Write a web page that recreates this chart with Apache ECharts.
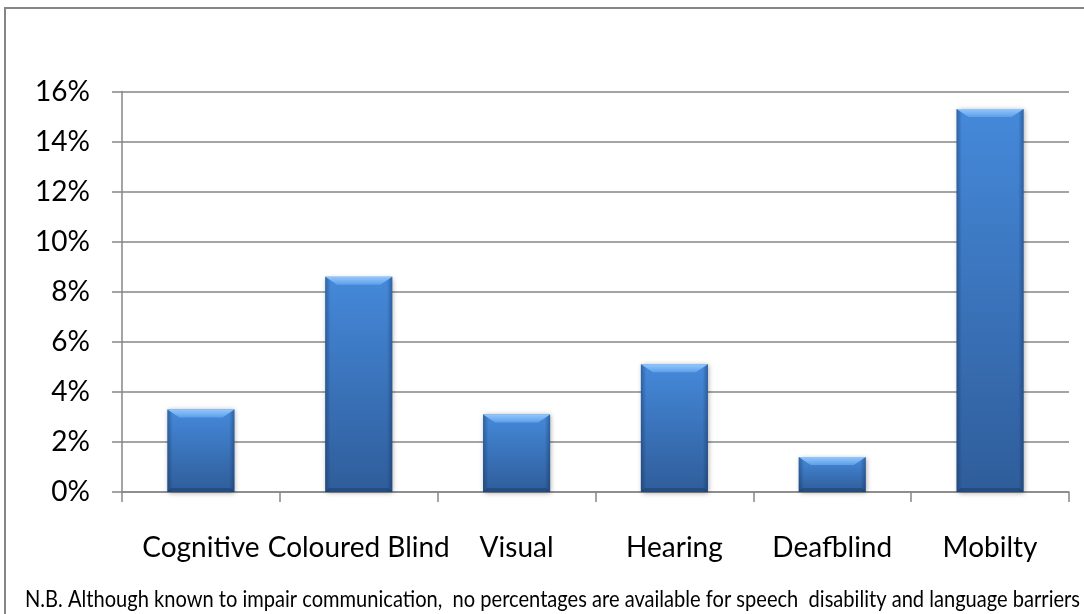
<!DOCTYPE html>
<html>
<head>
<meta charset="utf-8">
<script src="https://cdn.jsdelivr.net/npm/echarts@6/dist/echarts.min.js"></script>
<style>
  html, body { margin: 0; padding: 0; background: #ffffff; }
  #chart { width: 1084px; height: 614px; }
</style>
</head>
<body>
<div id="chart"></div>
<script>
// Share of people with each kind of disability (percent)
const categories = ['Cognitive', 'Coloured Blind', 'Visual', 'Hearing', 'Deafblind', 'Mobilty'];
const percentages = [3.3, 8.6, 3.1, 5.1, 1.4, 15.3];
const yTicks = { min: 0, max: 16, interval: 2 };
const footnote = 'N.B. Although known to impair communication,  no percentages are available for speech  disability and language barriers';

const FONT = 'Lato, "Open Sans", "DejaVu Sans", sans-serif';
const AXIS_GREY = '#868686';

// Squeeze the footnote horizontally so it spans the frame like a condensed face
const footFont = '23px ' + FONT;
const measureCtx = document.createElement('canvas').getContext('2d');
measureCtx.font = footFont;
const footScale = 1055 / measureCtx.measureText(footnote).width;

// Bevelled bar: vertical body gradient, darker side edges, light top bevel, soft shadow
function renderBar(params, api) {
  const idx = api.value(0);
  const val = api.value(1);
  const top = api.coord([idx, val]);
  const base = api.coord([idx, 0]);
  const band = api.size([1, 0])[0];
  const w = band * 0.425;
  const x0 = top[0] - w / 2;
  const x1 = top[0] + w / 2;
  const y0 = top[1];
  const y1 = base[1];
  const h = y1 - y0;
  const b = Math.min(8, h / 2);
  return {
    type: 'group',
    children: [
      {
        type: 'rect',
        shape: { x: x0, y: y0, width: w, height: h },
        style: {
          fill: new echarts.graphic.LinearGradient(0, 0, 0, 1, [
            { offset: 0, color: '#4589da' },
            { offset: 1, color: '#2f5d9a' }
          ]),
          shadowBlur: 5,
          shadowColor: 'rgba(0,0,0,0.35)',
          shadowOffsetX: 1,
          shadowOffsetY: 1
        }
      },
      {
        type: 'rect',
        shape: { x: x0, y: y0, width: w, height: h },
        style: {
          fill: new echarts.graphic.LinearGradient(0, 0, 1, 0, [
            { offset: 0, color: 'rgba(15,40,80,0.4)' },
            { offset: 0.08, color: 'rgba(15,40,80,0.0)' },
            { offset: 0.92, color: 'rgba(15,40,80,0.0)' },
            { offset: 1, color: 'rgba(15,40,80,0.4)' }
          ])
        }
      },
      {
        type: 'polygon',
        shape: { points: [[x0, y0], [x1, y0], [x1 - b * 1.5, y0 + b], [x0 + b * 1.5, y0 + b]] },
        style: {
          fill: new echarts.graphic.LinearGradient(0, 0, 0, 1, [
            { offset: 0, color: '#93c7fc' },
            { offset: 1, color: '#5e9fe9' }
          ])
        }
      },
      {
        type: 'polygon',
        shape: { points: [[x0, y1], [x1, y1], [x1 - 4, y1 - 4], [x0 + 4, y1 - 4]] },
        style: { fill: 'rgba(20,45,85,0.35)' }
      }
    ]
  };
}

const chart = echarts.init(document.getElementById('chart'), null, { renderer: 'canvas' });

chart.setOption({
  backgroundColor: '#ffffff',
  animation: false,
  grid: { left: 122, right: 15, top: 91.5, bottom: 122, containLabel: false },
  xAxis: {
    type: 'category',
    data: categories,
    boundaryGap: true,
    axisLine: { lineStyle: { color: AXIS_GREY, width: 1.5 } },
    axisTick: { show: true, length: 10, alignWithLabel: false, lineStyle: { color: AXIS_GREY, width: 1.5 } },
    axisLabel: { interval: 0, margin: 42, color: '#000000', fontFamily: FONT, fontSize: 28 }
  },
  yAxis: {
    type: 'value',
    min: yTicks.min,
    max: yTicks.max,
    interval: yTicks.interval,
    axisLine: { show: true, lineStyle: { color: AXIS_GREY, width: 1.5 } },
    axisTick: { show: true, length: 10, lineStyle: { color: AXIS_GREY, width: 1.5 } },
    splitLine: { show: true, lineStyle: { color: AXIS_GREY, width: 1.5 } },
    axisLabel: { margin: 32, color: '#000000', fontFamily: FONT, fontSize: 28, formatter: '{value}%' }
  },
  series: [{
    type: 'custom',
    renderItem: renderBar,
    encode: { x: 0, y: 1 },
    data: percentages.map((v, i) => [i, v])
  }],
  graphic: [
    {
      type: 'rect',
      z: 100,
      shape: { x: 5, y: 8, width: 1200, height: 700 },
      style: { fill: 'none', stroke: AXIS_GREY, lineWidth: 2 },
      silent: true
    },
    {
      type: 'text',
      z: 100,
      x: 25,
      y: 600,
      scaleX: footScale,
      style: {
        x: 0,
        y: 0,
        text: footnote,
        font: footFont,
        fill: '#000000',
        textAlign: 'left',
        textVerticalAlign: 'middle'
      }
    }
  ]
});
</script>
</body>
</html>
